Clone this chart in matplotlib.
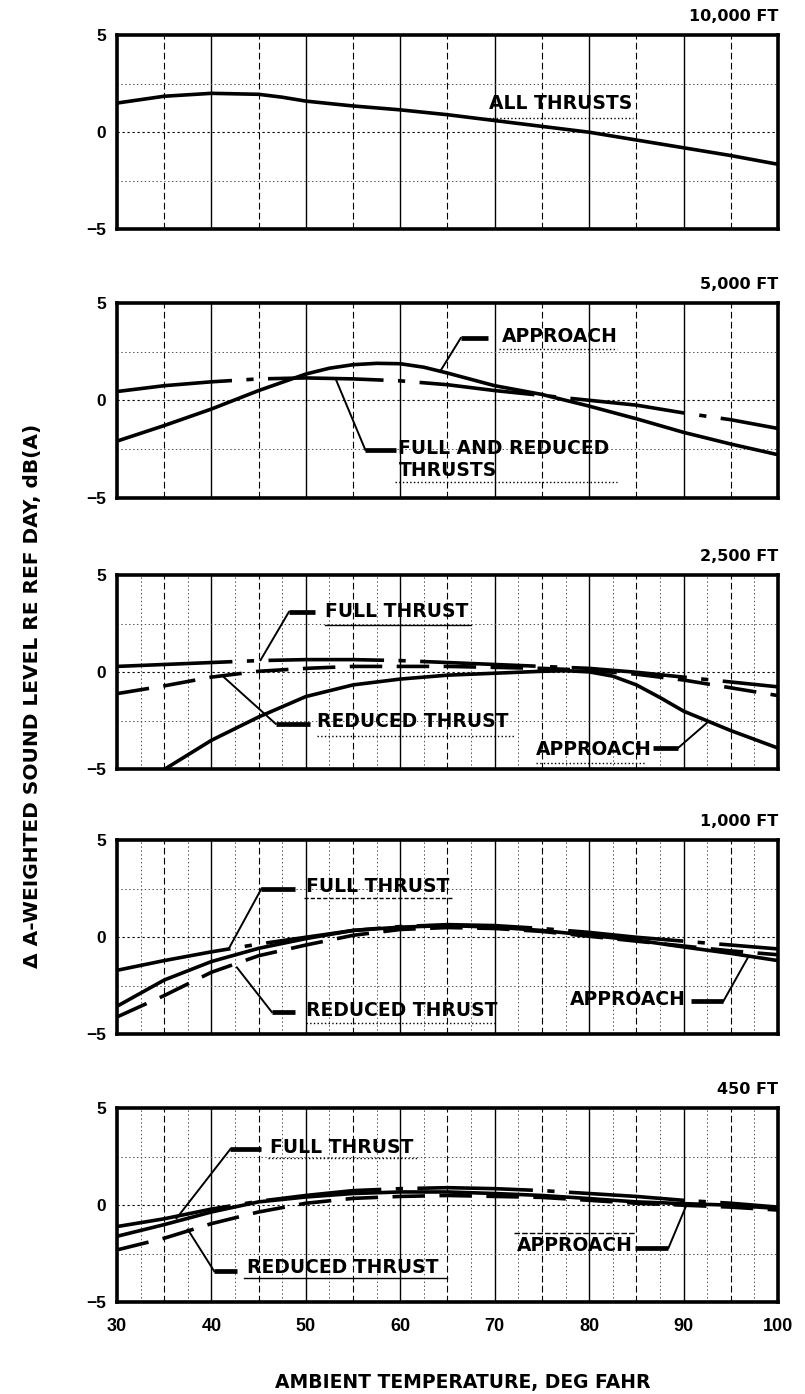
import matplotlib
matplotlib.use("Agg")
import matplotlib.pyplot as plt

plt.rcParams['font.family'] = ['DejaVu Sans']
plt.rcParams['font.weight'] = 'bold'
TICK_FONT = ['Liberation Sans', 'DejaVu Sans']

# Ambient temperature, deg F
temps = [30, 35, 40, 45, 50, 55, 60, 65, 70, 75, 80, 85, 90, 95, 100]

# 10,000 ft
all_10000_temps = [30, 35, 40, 45, 47.5, 50, 55, 60, 65, 70, 75, 80, 85, 90, 95, 100]
all_thrusts_10000 = [1.5, 1.85, 2.0, 1.95, 1.8, 1.6, 1.35, 1.15, 0.9, 0.6, 0.3, 0.0, -0.4, -0.8, -1.2, -1.65]

# 5,000 ft
approach_5000_temps = [30, 35, 40, 45, 50, 52.5, 55, 57.5, 60, 62.5, 65, 70, 75, 80, 85, 90, 95, 100]
approach_5000 = [-2.1, -1.3, -0.45, 0.5, 1.35, 1.65, 1.83, 1.9, 1.88, 1.7, 1.4, 0.75, 0.3, -0.3, -0.95, -1.65, -2.25, -2.8]
full_reduced_5000 = [0.45, 0.75, 0.95, 1.1, 1.15, 1.1, 1.0, 0.8, 0.5, 0.25, 0.0, -0.25, -0.65, -1.0, -1.45]

# 2,500 ft
full_2500 = [0.3, 0.4, 0.5, 0.6, 0.65, 0.65, 0.6, 0.5, 0.4, 0.3, 0.2, 0.0, -0.25, -0.5, -0.75]
reduced_2500 = [-1.1, -0.7, -0.25, 0.05, 0.2, 0.3, 0.3, 0.3, 0.25, 0.2, 0.1, -0.1, -0.4, -0.8, -1.2]
approach_2500_temps = [35, 40, 45, 50, 55, 60, 65, 70, 75, 77.5, 80, 82.5, 85, 87.5, 90, 95, 100]
approach_2500 = [-5.0, -3.5, -2.3, -1.25, -0.65, -0.35, -0.15, -0.05, 0.05, 0.08, 0.02, -0.2, -0.65, -1.3, -2.0, -3.0, -3.9]

# 1,000 ft
full_1000 = [-1.7, -1.2, -0.75, -0.35, 0.0, 0.35, 0.55, 0.65, 0.6, 0.45, 0.25, 0.0, -0.2, -0.4, -0.6]
reduced_1000 = [-4.1, -3.0, -1.8, -0.95, -0.4, 0.1, 0.4, 0.5, 0.45, 0.3, 0.05, -0.2, -0.45, -0.7, -0.9]
approach_1000 = [-3.55, -2.2, -1.25, -0.57, -0.07, 0.35, 0.52, 0.6, 0.52, 0.35, 0.1, -0.15, -0.5, -0.83, -1.2]

# 450 ft
full_450 = [-1.1, -0.7, -0.2, 0.2, 0.5, 0.75, 0.85, 0.9, 0.85, 0.75, 0.6, 0.45, 0.25, 0.1, -0.1]
reduced_450 = [-2.3, -1.7, -0.95, -0.35, 0.1, 0.35, 0.45, 0.5, 0.45, 0.4, 0.25, 0.1, 0.0, -0.1, -0.25]
approach_450 = [-1.6, -1.0, -0.35, 0.17, 0.42, 0.6, 0.68, 0.68, 0.6, 0.5, 0.34, 0.17, 0.08, 0.0, -0.17]

altitudes = ["10,000 FT", "5,000 FT", "2,500 FT", "1,000 FT", "450 FT"]
y_ticks = [-5, 0, 5]
y_tick_labels = ["\u22125", "0", "5"]
x_ticks = [30, 40, 50, 60, 70, 80, 90, 100]

SOLID = '-'
DASHDOT = (0, (32, 4, 2, 4))
DASHED = (0, (9, 4))
LABEL_SIZE = 13.5

fig = plt.figure(figsize=(8.05, 13.94), dpi=100)
left, width = 0.1453, 0.8212
tops = [0.9749, 0.7826, 0.5875, 0.3974, 0.2052]
height = 0.1395

axes = []
for i, top in enumerate(tops):
    ax = fig.add_axes([left, top - height, width, height])
    axes.append(ax)
    ax.set_xlim(30, 100)
    ax.set_ylim(-5, 5)
    # grid
    for x in range(35, 100, 5):
        if x % 10 == 0:
            ax.axvline(x, color='black', lw=1.0, zorder=1)
        else:
            ax.axvline(x, color='black', lw=0.8, ls=(0, (6, 3)), zorder=1)
    if i >= 2:
        for x in [32.5 + 5 * k for k in range(14)]:
            ax.axvline(x, color='#555555', lw=0.7, ls=(0, (1.5, 2.5)), zorder=1)
    for y in (-2.5, 2.5):
        ax.axhline(y, color='#555555', lw=0.7, ls=(0, (1.5, 2.5)), zorder=1)
    ax.axhline(0, color='black', lw=0.8, ls=(0, (2, 2.5)), zorder=1)

    for s in ax.spines.values():
        s.set_linewidth(2.6)
    ax.set_yticks(y_ticks)
    ax.set_yticklabels(y_tick_labels, fontsize=12.5, fontweight='bold', family=TICK_FONT)
    ax.tick_params(axis='y', length=0, pad=8)
    ax.set_xticks(x_ticks)
    if i == 4:
        ax.set_xticklabels([str(t) for t in x_ticks], fontsize=13, fontweight='bold',
                           family=TICK_FONT)
        ax.tick_params(axis='x', length=0, pad=11)
    else:
        ax.tick_params(axis='x', length=0, labelbottom=False)
    ax.grid(False)
    ax.annotate(altitudes[i], xy=(1.0, 1.0), xycoords='axes fraction',
                xytext=(0, 8), textcoords='offset points',
                ha='right', va='bottom', fontsize=11.5, fontweight='bold')


def curve(ax, xs, ys, ls):
    ax.plot(xs, ys, color='black', lw=2.6, ls=ls, solid_capstyle='butt',
            dash_capstyle='butt', solid_joinstyle='round', zorder=3)


def callout(ax, text, text_xy, bar, target, underline=None, ul_style=':'):
    ax.text(text_xy[0], text_xy[1], text, fontsize=LABEL_SIZE, fontweight='bold',
            ha='left', va='center', zorder=4, linespacing=1.2)
    ax.plot([bar[0], bar[1]], [bar[2], bar[2]], color='black', lw=3.4,
            solid_capstyle='butt', zorder=4)
    ax.plot([bar[1], target[0]], [bar[2], target[1]], color='black', lw=1.4, zorder=4)
    if underline is not None:
        ax.plot([underline[0], underline[1]], [underline[2], underline[2]],
                color='black', lw=1.0, ls=ul_style, zorder=4)


# 10,000 ft
ax = axes[0]
curve(ax, all_10000_temps, all_thrusts_10000, SOLID)
ax.text(69.4, 1.5, "ALL THRUSTS", fontsize=LABEL_SIZE, fontweight='bold', ha='left', va='center')
ax.plot([69.0, 84.6], [0.75, 0.75], color='black', lw=1.0, ls=':')

# 5,000 ft
ax = axes[1]
curve(ax, approach_5000_temps, approach_5000, SOLID)
curve(ax, temps, full_reduced_5000, DASHDOT)
callout(ax, "APPROACH", (70.8, 3.3), (69.3, 66.4, 3.2), (64.3, 1.55),
        underline=(70.5, 83.0, 2.65))
callout(ax, "FULL AND REDUCED\nTHRUSTS", (59.8, -3.05), (59.5, 56.3, -2.55), (53.2, 1.05),
        underline=(59.4, 83.0, -4.2))

# 2,500 ft
ax = axes[2]
curve(ax, approach_2500_temps, approach_2500, SOLID)
curve(ax, temps, full_2500, DASHDOT)
curve(ax, temps, reduced_2500, DASHED)
callout(ax, "FULL THRUST", (52.0, 3.15), (51.0, 48.2, 3.1), (45.2, 0.62),
        underline=(52.0, 67.5, 2.45), ul_style='-')
callout(ax, "REDUCED THRUST", (51.2, -2.55), (50.4, 46.8, -2.65), (41.2, -0.2),
        underline=(51.2, 72.0, -3.3))
callout(ax, "APPROACH", (74.4, -3.95), (86.8, 89.4, -3.9), (92.6, -2.55),
        underline=(74.4, 86.0, -4.65))

# 1,000 ft
ax = axes[3]
curve(ax, temps, approach_1000, SOLID)
curve(ax, temps, full_1000, DASHDOT)
curve(ax, temps, reduced_1000, DASHED)
callout(ax, "FULL THRUST", (50.0, 2.6), (48.9, 45.3, 2.5), (41.8, -0.62),
        underline=(49.8, 65.5, 2.0), ul_style=(0, (3, 1.5)))
callout(ax, "REDUCED THRUST", (50.0, -3.75), (48.9, 46.4, -3.85), (42.7, -1.55),
        underline=(50.0, 70.0, -4.4))
callout(ax, "APPROACH", (78.0, -3.2), (90.8, 94.2, -3.3), (96.8, -1.05))

# 450 ft
ax = axes[4]
curve(ax, temps, approach_450, SOLID)
curve(ax, temps, full_450, DASHDOT)
curve(ax, temps, reduced_450, DASHED)
callout(ax, "FULL THRUST", (46.2, 2.95), (45.3, 42.0, 2.88), (36.3, -0.68),
        underline=(46.0, 62.0, 2.45))
callout(ax, "REDUCED THRUST", (43.8, -3.2), (42.7, 40.3, -3.4), (37.5, -1.25),
        underline=(43.5, 65.0, -3.75), ul_style='-')
callout(ax, "APPROACH", (72.3, -2.05), (84.9, 88.4, -2.2), (90.3, 0.0),
        underline=(72.0, 85.0, -1.45), ul_style=(0, (4, 1.5)))

fig.text(0.575, 0.0086, "AMBIENT TEMPERATURE, DEG FAHR", ha='center', va='center',
         fontsize=13.5, fontweight='bold')
fig.text(0.040, 0.5007, "\u0394 A-WEIGHTED SOUND LEVEL RE REF DAY, dB(A)", rotation=90,
         ha='center', va='center', fontsize=14.5, fontweight='bold')

fig.savefig("out.png", dpi=100)
